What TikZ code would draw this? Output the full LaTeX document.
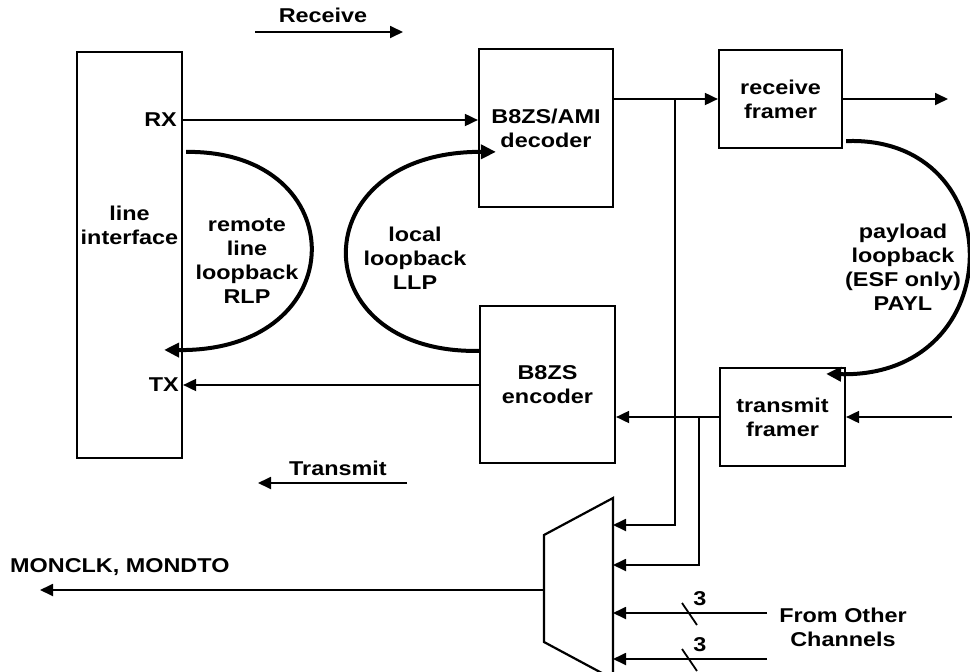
\documentclass[tikz,border=0pt]{standalone}
\usepackage{fontspec}
\setmainfont[FakeStretch=1.17]{Liberation Sans}
\usetikzlibrary{positioning,arrows.meta,calc}

\begin{document}
\begin{tikzpicture}[x=1pt, y=-1pt,
  font=\fontsize{20}{24}\selectfont\bfseries,
  box/.style={draw, line width=2.2pt, align=center, inner sep=0pt},
  lbl/.style={align=center, inner sep=0pt},
  wire/.style={line width=1.8pt},
  arr/.style={wire, -{Triangle[length=13pt,width=12pt]}},
  loopb/.style={line width=4pt, -{Triangle[length=15pt,width=14pt]}}
]
\useasboundingbox[fill=white] (0,0) rectangle (970,672);

% blocks
\node[box, minimum width=105pt, minimum height=406pt] (li) at (129.5,255) {};
\node[lbl] (litxt) at (129.5,225) {line\\interface};
\node[lbl, anchor=east] (rx) at (177,120) {RX};
\node[lbl, anchor=east] (tx) at (179,385) {TX};
\node[box, minimum width=134pt, minimum height=158pt] (dec) at (546,128) {B8ZS/AMI\\decoder};
\node[box, minimum width=135pt, minimum height=157pt] (enc) at (547.5,384.5) {B8ZS\\encoder};
\node[box, minimum width=123pt, minimum height=98pt] (rxf) at (780.5,99) {receive\\framer};
\node[box, minimum width=125pt, minimum height=98pt] (txf) at (782.5,417) {transmit\\framer};

% monitor mux
\draw[line width=2.2pt] (544,535) coordinate (mux nw) -- (613,498) coordinate (mux ne)
  -- (613,679) coordinate (mux se) -- (544,642) coordinate (mux sw) -- cycle;
\coordinate (mux out) at (544,590);
\foreach \n/\y in {1/525,2/565,3/613,4/659}
  \coordinate (mux in\n) at (613,\y);

% data paths
\draw[arr] (rx.east -| li.east) -- (rx.east -| dec.west);
\draw[arr] (tx.east -| enc.west) -- (tx.east -| li.east);
\draw[arr] (dec.east |- rxf.west) -- (rxf.west);
\coordinate (rx out) at (948,99);
\draw[arr] (rxf.east) -- (rx out);
\coordinate (tx in) at (952,417);
\draw[arr] (tx in) -- (txf.east);
\draw[arr] (txf.west) -- (txf.west -| enc.east);
\coordinate (rx tap) at (675,99);
\draw[arr] (rx tap) |- (mux in1);
\coordinate (tx tap) at (699,417);
\draw[arr] (tx tap) |- (mux in2);

% other channels
\node[lbl] (other) at (843,627) {From Other\\Channels};
\foreach \n in {3,4} {
  \coordinate (ch\n) at ($(mux in\n)+(154,0)$);
  \draw[arr] (ch\n) -- (mux in\n);
  \draw[wire] ($(mux in\n)+(69,-10)$) -- ++(15,22);
  \node[lbl] (bus\n) at ($(mux in\n)+(87,-14)$) {3};
}

\coordinate (mon) at (40,590);
\draw[arr] (mux out) -- (mon);
\node[lbl, anchor=west] (monlbl) at (10,567) {MONCLK, MONDTO};

% direction labels
\node[lbl] (recv) at (323,15) {Receive};
\coordinate (recv a) at (255,32);
\coordinate (recv b) at (403,32);
\draw[arr] (recv a) -- (recv b);
\node[lbl] (xmit) at (338,468) {Transmit};
\coordinate (xmit a) at (407,483);
\coordinate (xmit b) at (258,483);
\draw[arr] (xmit a) -- (xmit b);

% loopbacks
\draw[loopb] ($(li.north east)+(3,101)$) .. controls (355,150) and (355,352) .. ($(li.north east)+(-19,299)$);
\node[lbl] (rlp) at (247,261) {remote\\line\\loopback\\RLP};
\draw[loopb] ($(enc.north west)+(0,46)$) .. controls (301,354) and (301,151) .. ($(dec.north west)+(18,104)$);
\node[lbl] (llp) at (415,258) {local\\loopback\\LLP};
\draw[loopb] ($(rxf.south east)+(3,-8)$) .. controls (1012,135) and (1012,378) .. ($(txf.north east)+(-20,7)$);
\node[lbl] (payl) at (903,267) {payload\\loopback\\(ESF only)\\PAYL};
\end{tikzpicture}
\end{document}
